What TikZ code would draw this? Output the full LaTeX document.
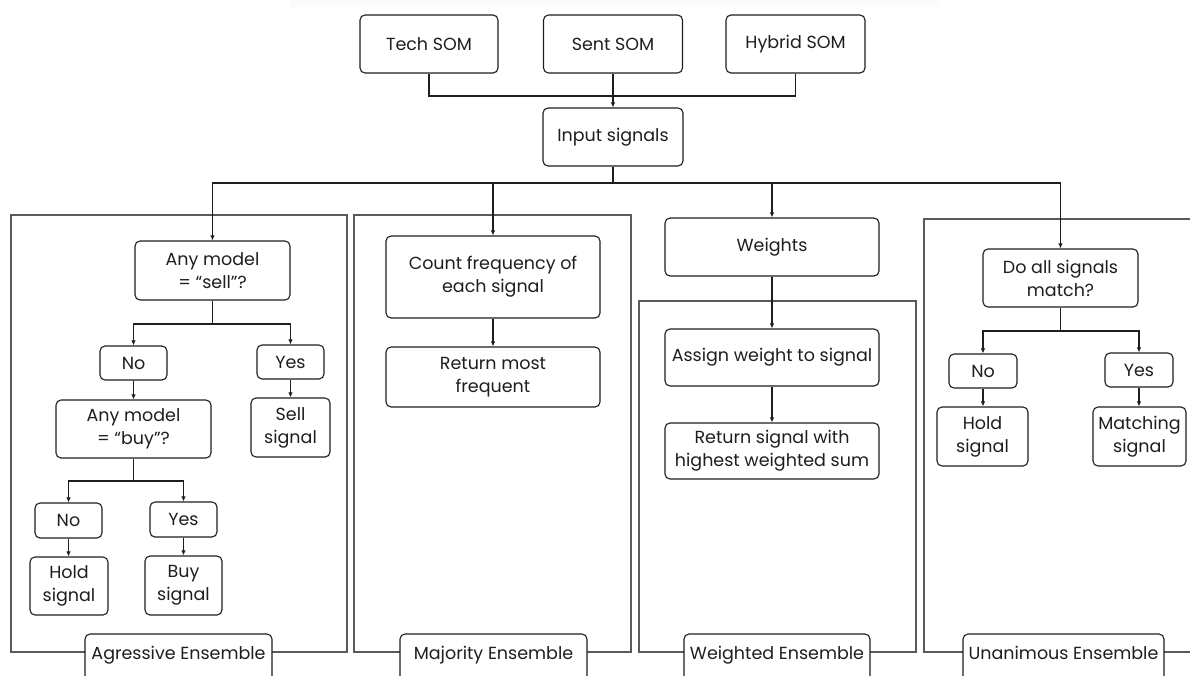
\documentclass[tikz,border=0pt]{standalone}
\usepackage{fontspec}
\setmainfont{Poppins}
\usetikzlibrary{arrows.meta}
\definecolor{ink}{HTML}{1E1E1E}
\definecolor{framec}{HTML}{5A5A5A}
\begin{document}
\begin{tikzpicture}[x=1pt,y=-1pt,
  bx/.style={draw=ink, line width=1.1pt, rounded corners=5pt, fill=white, align=center, inner sep=0pt, text=ink, font=\fontsize{17.5}{23}\selectfont},
  lab/.style={draw=ink, line width=1.1pt, rounded corners=5pt, fill=white, anchor=base, inner sep=0pt, text height=25pt, text depth=28pt, text=ink, font=\fontsize{17.5}{23}\selectfont},
  frm/.style={draw=framec, line width=1.3pt},
  ln/.style={draw=ink, line width=1.1pt},
  arr/.style={ln, -{Latex[length=5pt,width=4.5pt]}}]
\useasboundingbox (0,0) rectangle (1190,675);
\clip (0,0) rectangle (1190,675);
\fill[gray!3] (290,0) rectangle (940,7);
% frames
\draw[frm] (11,215) rectangle (347,652);
\draw[frm] (354,215) rectangle (631,652);
\draw[frm] (639,301) rectangle (916,652);
\draw[frm] (1200,219) -| (924,652) -- (1200,652);
% top
\node[bx, minimum width=138pt, minimum height=58pt] (tech) at (429,44) {Tech SOM};
\node[bx, minimum width=139pt, minimum height=58pt] (sent) at (613,44) {Sent SOM};
\node[bx, minimum width=139pt, minimum height=58pt] (hybrid) at (795.5,44) {Hybrid SOM};
\node[bx, minimum width=140pt, minimum height=58pt] (input) at (613,137) {Input signals};
\coordinate (j1) at (613,96);
\draw[ln] (tech.south) |- (j1);
\draw[ln] (hybrid.south) |- (j1);
\draw[arr] (sent.south) -- (input.north);
% aggressive
\node[bx, minimum width=155pt, minimum height=59pt] (sellq) at (212.5,270.5) {Any model\\= “sell”?};
\node[bx, minimum width=67pt, minimum height=34pt] (no1) at (133.5,363) {No};
\node[bx, minimum width=67pt, minimum height=34pt] (yes1) at (290.5,362) {Yes};
\node[bx, minimum width=155pt, minimum height=58pt] (buyq) at (133.5,429) {Any model\\= “buy”?};
\node[bx, minimum width=79pt, minimum height=59pt] (sellsig) at (290.5,427.5) {Sell\\signal};
\node[bx, minimum width=67pt, minimum height=35pt] (no2) at (68.5,520.5) {No};
\node[bx, minimum width=67pt, minimum height=35pt] (yes2) at (183.5,519.5) {Yes};
\node[bx, minimum width=78pt, minimum height=58pt] (hold1) at (69,586) {Hold\\signal};
\node[bx, minimum width=77pt, minimum height=59pt] (buysig) at (183.5,585.5) {Buy\\signal};
% majority
\node[bx, minimum width=214pt, minimum height=82pt] (count) at (493,277) {Count frequency of\\each signal};
\node[bx, minimum width=214pt, minimum height=60pt] (retmost) at (493,377) {Return most\\frequent};
% weighted
\node[bx, minimum width=214pt, minimum height=58pt] (weights) at (772,247) {Weights};
\node[bx, minimum width=214pt, minimum height=57pt] (assign) at (772,357.5) {Assign weight to signal};
\node[bx, minimum width=214pt, minimum height=56pt] (retw) at (772,451) {Return signal with\\highest weighted sum};
% unanimous
\node[bx, minimum width=155pt, minimum height=58pt] (doall) at (1060.5,278) {Do all signals\\match?};
\node[bx, minimum width=68pt, minimum height=34pt] (no3) at (983,371) {No};
\node[bx, minimum width=68pt, minimum height=34pt] (yes3) at (1139,370) {Yes};
\node[bx, minimum width=91pt, minimum height=59pt] (hold3) at (982.5,436.5) {Hold\\signal};
\node[bx, minimum width=93pt, minimum height=59pt] (match) at (1139.5,436.5) {Matching\\signal};
% input split
\coordinate (j2) at (613,183);
\draw[ln] (input.south) -- (j2);
\draw[arr] (j2) -| (sellq.north);
\draw[arr] (j2) -| (count.north);
\draw[arr] (j2) -| (weights.north);
\draw[arr] (j2) -| (doall.north);
% aggressive connectors
\coordinate (j3) at (212.5,324);
\draw[ln] (sellq.south) -- (j3);
\draw[arr] (j3) -| (no1.north);
\draw[arr] (j3) -| (yes1.north);
\draw[arr] (no1.south) -- (buyq.north);
\draw[arr] (yes1.south) -- (sellsig.north);
\coordinate (j4) at (133.5,481);
\draw[ln] (buyq.south) -- (j4);
\draw[arr] (j4) -| (no2.north);
\draw[arr] (j4) -| (yes2.north);
\draw[arr] (no2.south) -- (no2.south |- hold1.north);
\draw[arr] (yes2.south) -- (buysig.north);
% majority / weighted
\draw[arr] (count.south) -- (retmost.north);
\draw[arr] (weights.south) -- (assign.north);
\draw[arr] (assign.south) -- (retw.north);
% unanimous
\coordinate (j5) at (1060.5,331);
\draw[ln] (doall.south) -- (j5);
\draw[arr] (j5) -| (no3.north);
\draw[arr] (j5) -| (yes3.north);
\draw[arr] (no3.south) -- (no3.south |- hold3.north);
\draw[arr] (yes3.south) -- (yes3.south |- match.north);
% labels
\node[lab, minimum width=187pt] (aglab) at (178.5,659) {Agressive Ensemble};
\node[lab, minimum width=187pt] (majlab) at (493.5,659) {Majority Ensemble};
\node[lab, minimum width=186pt] (wlab) at (777,659) {Weighted Ensemble};
\node[lab, minimum width=201pt] (ulab) at (1063.5,659) {Unanimous Ensemble};
\end{tikzpicture}
\end{document}
